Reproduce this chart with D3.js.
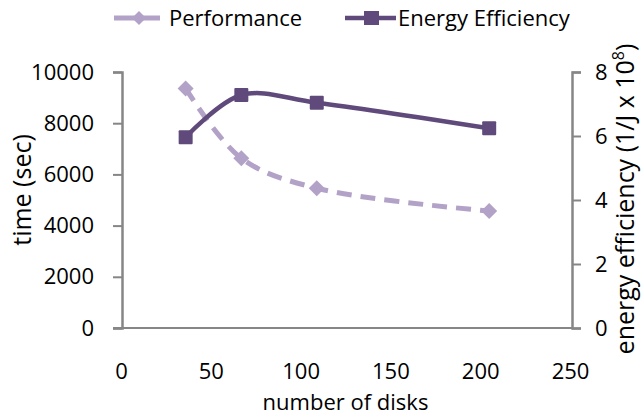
<!DOCTYPE html>
<html>
<head>
<meta charset="utf-8">
<script src="https://cdn.jsdelivr.net/npm/d3@7"></script>
<style>
  body { margin: 0; background: #fff; }
  text { font-family: "Open Sans", sans-serif; fill: #000; }
</style>
</head>
<body>
<div id="chart"></div>
<script>
// data
var disks = [36, 67, 109, 205];
var timeSec = [9360, 6630, 5460, 4570];
var energyEff = [5.96, 7.28, 7.04, 6.24];
var xTicks = [0, 50, 100, 150, 200, 250];
var leftTicks = [0, 2000, 4000, 6000, 8000, 10000];
var rightTicks = [0, 2, 4, 6, 8];

var W = 644, H = 415;
var margin = {top: 72, right: 72, bottom: 87, left: 122},
    width = W - margin.left - margin.right,
    height = H - margin.top - margin.bottom;

var lightC = "#b3a2c7", darkC = "#604a7b", axisC = "#868686";

var svg = d3.select("#chart").append("svg")
    .attr("width", W)
    .attr("height", H);
var g = svg.append("g")
    .attr("transform", "translate(" + margin.left + "," + margin.top + ")");

// scales
var x = d3.scaleLinear().domain([0, 250]).range([-1, width - 2]);
var yL = d3.scaleLinear().domain([0, 10000]).range([height, 0]);
var yR = d3.scaleLinear().domain([0, 8]).range([height, 0]);

// axes
var leftAxis = g.append("g")
    .call(d3.axisLeft(yL).tickValues(leftTicks).tickSize(9).tickPadding(19).tickFormat(d3.format("d")));
var rightAxis = g.append("g")
    .attr("transform", "translate(" + width + ",0)")
    .call(d3.axisRight(yR).tickValues(rightTicks).tickSize(9).tickPadding(14));
var bottomAxis = g.append("g")
    .attr("transform", "translate(0," + (height + 35) + ")")
    .call(d3.axisBottom(x).tickValues(xTicks).tickSize(0).tickPadding(0));
bottomAxis.select(".domain").remove();

// baseline between the two axes
g.append("line")
    .attr("x1", -9).attr("x2", width)
    .attr("y1", height).attr("y2", height)
    .attr("stroke", axisC).attr("stroke-width", 2);

[leftAxis, rightAxis].forEach(function(a) {
  a.select(".domain").attr("stroke", axisC).attr("stroke-width", 2.5);
  a.selectAll(".tick line").attr("stroke", axisC).attr("stroke-width", 2);
});
svg.selectAll(".tick text")
    .style("font-family", "'Open Sans', sans-serif")
    .style("font-size", "22px")
    .attr("fill", "#000");

// axis titles
svg.append("text")
    .attr("transform", "translate(31,190) rotate(-90)")
    .attr("text-anchor", "middle")
    .style("font-size", "25px")
    .text("time (sec)");
var rt = svg.append("text")
    .attr("transform", "translate(634,199) rotate(-90)")
    .attr("text-anchor", "middle")
    .style("font-size", "25px");
rt.append("tspan").text("energy efficiency (1/J x 10");
rt.append("tspan").attr("dy", -10).style("font-size", "16px").text("8");
rt.append("tspan").attr("dy", 10).text(")");

svg.append("text")
    .attr("x", margin.left + x(125))
    .attr("y", 410)
    .attr("text-anchor", "middle")
    .style("font-size", "22px")
    .text("number of disks");

// lines
var perfLine = d3.line()
    .x(function(d, i) { return x(disks[i]); })
    .y(function(d) { return yL(d); })
    .curve(d3.curveCatmullRom.alpha(0.5));
var effLine = d3.line()
    .x(function(d, i) { return x(disks[i]); })
    .y(function(d) { return yR(d); })
    .curve(d3.curveCatmullRom.alpha(0.5));

g.append("path")
    .datum(timeSec)
    .attr("d", perfLine)
    .attr("fill", "none")
    .attr("stroke", lightC)
    .attr("stroke-width", 5)
    .attr("stroke-dasharray", "15,9");

g.selectAll(".diamond")
    .data(timeSec)
    .enter().append("path")
      .attr("class", "diamond")
      .attr("transform", function(d, i) { return "translate(" + x(disks[i]) + "," + yL(d) + ")"; })
      .attr("d", "M0,-8L8,0L0,8L-8,0Z")
      .attr("fill", lightC);

g.append("path")
    .datum(energyEff)
    .attr("d", effLine)
    .attr("fill", "none")
    .attr("stroke", darkC)
    .attr("stroke-width", 4.5);

g.selectAll(".square")
    .data(energyEff)
    .enter().append("rect")
      .attr("class", "square")
      .attr("x", function(d, i) { return x(disks[i]) - 7; })
      .attr("y", function(d) { return yR(d) - 7; })
      .attr("width", 14).attr("height", 14)
      .attr("rx", 1)
      .attr("fill", darkC);

// legend
var lg = svg.append("g");
lg.append("line").attr("x1", 114).attr("x2", 160).attr("y1", 18).attr("y2", 18)
    .attr("stroke", lightC).attr("stroke-width", 5);
lg.append("path").attr("transform", "translate(139,18)").attr("d", "M0,-7L7,0L0,7L-7,0Z").attr("fill", lightC);
lg.append("text").attr("x", 169).attr("y", 26).style("font-size", "22px").text("Performance");

lg.append("line").attr("x1", 345).attr("x2", 396).attr("y1", 18).attr("y2", 18)
    .attr("stroke", darkC).attr("stroke-width", 4.5);
lg.append("rect").attr("x", 364).attr("y", 11).attr("width", 15).attr("height", 14).attr("fill", darkC);
lg.append("text").attr("x", 398).attr("y", 26).style("font-size", "22px").text("Energy Efficiency");
</script>
</body>
</html>
